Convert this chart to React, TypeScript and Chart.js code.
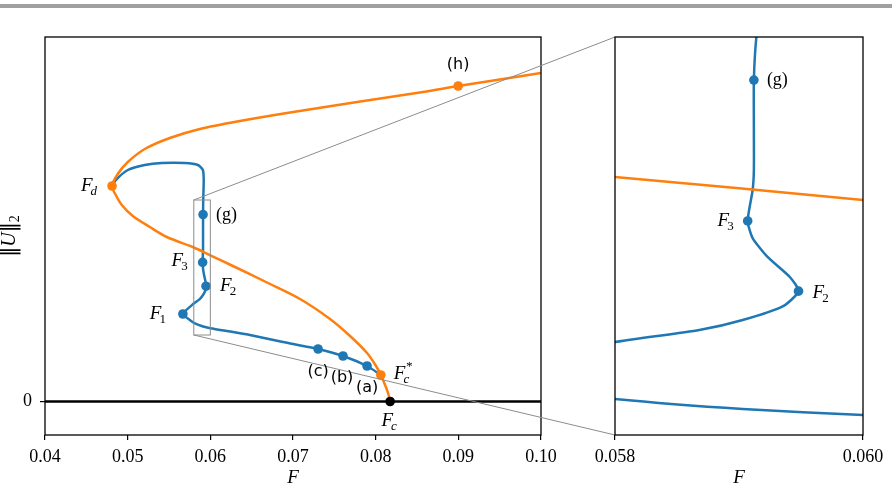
import React, { useEffect, useRef } from "react";
import { Chart, registerables } from "chart.js";
Chart.register(...registerables);

const BLUE = "#1f77b4";
const ORANGE = "#ff7f0e";
const GREY = "#8c8c8c";
const SERIF = "'Liberation Serif', 'DejaVu Serif', serif";
const SANS = "'DejaVu Sans', sans-serif";

// ---- data ----
// turning-point (orange) branch, from F_c up to F_d and back out to the right
const orangeF = [0.08175, 0.0815, 0.08114, 0.08062, 0.08005, 0.07896, 0.0769, 0.07448, 0.07085, 0.06685, 0.06273, 0.06, 0.058, 0.05474, 0.05268, 0.05062, 0.04929, 0.04856, 0.04811, 0.0488, 0.05002, 0.05207, 0.0551, 0.05874, 0.06358, 0.06964, 0.07775, 0.08574, 0.08998, 0.09386, 0.1, 0.102];
const orangeU = [0.0, 0.085, 0.165, 0.265, 0.355, 0.485, 0.655, 0.825, 1.025, 1.19, 1.355, 1.462, 1.54, 1.645, 1.745, 1.855, 1.965, 2.065, 2.155, 2.275, 2.395, 2.525, 2.635, 2.725, 2.805, 2.89, 2.995, 3.095, 3.155, 3.205, 3.285, 3.31];

// blue branch, from F_c^* through F_1, F_2, F_3, (g) up to F_d
const blueF = [0.08062, 0.07896, 0.07605, 0.07303, 0.06879, 0.06479, 0.06273, 0.06, 0.05903, 0.058, 0.05752, 0.05668, 0.058, 0.05868, 0.05903, 0.05936, 0.05948, 0.05941, 0.05923, 0.05911, 0.05907, 0.05911, 0.05912, 0.05912, 0.05912, 0.05914, 0.0592, 0.0591, 0.05849, 0.05692, 0.05413, 0.05207, 0.05002, 0.04856, 0.04811];
const blueU = [0.265, 0.355, 0.455, 0.525, 0.595, 0.665, 0.695, 0.733, 0.753, 0.787, 0.815, 0.875, 0.98, 1.021, 1.055, 1.103, 1.153, 1.201, 1.269, 1.333, 1.391, 1.496, 1.564, 1.7, 1.869, 2.015, 2.215, 2.315, 2.365, 2.385, 2.385, 2.365, 2.315, 2.215, 2.155];

// marked points
const blueMarkNames = ["(a)", "(b)", "(c)", "F1", "F2", "F3", "(g)"];
const blueMarkF = [0.07896, 0.07605, 0.07303, 0.05668, 0.05948, 0.05907, 0.05912];
const blueMarkU = [0.355, 0.455, 0.525, 0.875, 1.153, 1.391, 1.869];
const orangeMarkNames = ["Fd", "Fc*", "(h)"];
const orangeMarkF = [0.04811, 0.08062, 0.08998];
const orangeMarkU = [2.155, 0.265, 3.155];
const fcF = [0.08175];
const fcU = [0];

const leftXTicks = [0.04, 0.05, 0.06, 0.07, 0.08, 0.09, 0.1];
const rightXTicks = [0.058, 0.06];
const leftYTicks = [0];
const leftXRange = [0.04, 0.1];
const leftYRange = [-0.335, 3.645];
const zoomF = [0.058, 0.06];
const zoomU = [0.665, 2.015];

const pts = (xs: number[], ys: number[]) => xs.map((x, i) => ({ x, y: ys[i] }));

type Lbl = {
  name: string;
  dx: number;
  dy: number;
  align: "left" | "right" | "center";
  kind: "math" | "sans" | "serif";
  text: string;
  sub?: string;
  sup?: string;
  subItalic?: boolean;
};

const leftLabels: Lbl[] = [
  { name: "Fd", dx: -13, dy: -1, align: "right", kind: "math", text: "F", sub: "d", subItalic: true },
  { name: "(h)", dx: 0, dy: -21, align: "center", kind: "sans", text: "(h)" },
  { name: "(g)", dx: 13, dy: 1, align: "left", kind: "serif", text: "(g)" },
  { name: "F3", dx: -13, dy: -2, align: "right", kind: "math", text: "F", sub: "3" },
  { name: "F2", dx: 14, dy: -1, align: "left", kind: "math", text: "F", sub: "2" },
  { name: "F1", dx: -15, dy: -1, align: "right", kind: "math", text: "F", sub: "1" },
  { name: "(c)", dx: 0, dy: 23, align: "center", kind: "sans", text: "(c)" },
  { name: "(b)", dx: -1, dy: 22, align: "center", kind: "sans", text: "(b)" },
  { name: "(a)", dx: 0, dy: 22, align: "center", kind: "sans", text: "(a)" },
  { name: "Fc*", dx: 13, dy: -2, align: "left", kind: "math", text: "F", sub: "c", sup: "*", subItalic: true },
  { name: "Fc", dx: 0, dy: 18, align: "center", kind: "math", text: "F", sub: "c", subItalic: true },
];
const rightLabels: Lbl[] = [
  { name: "(g)", dx: 13, dy: 0, align: "left", kind: "serif", text: "(g)" },
  { name: "F3", dx: -12, dy: -1, align: "right", kind: "math", text: "F", sub: "3" },
  { name: "F2", dx: 14, dy: 1, align: "left", kind: "math", text: "F", sub: "2" },
];

function findMark(name: string): { f: number; u: number } | null {
  let i = blueMarkNames.indexOf(name);
  if (i >= 0) return { f: blueMarkF[i], u: blueMarkU[i] };
  i = orangeMarkNames.indexOf(name);
  if (i >= 0) return { f: orangeMarkF[i], u: orangeMarkU[i] };
  if (name === "Fc") return { f: fcF[0], u: fcU[0] };
  return null;
}

function drawLabel(ctx: CanvasRenderingContext2D, x: number, y: number, a: Lbl) {
  ctx.save();
  ctx.fillStyle = "#000";
  if (a.kind !== "math") {
    ctx.font = a.kind === "sans" ? `16px ${SANS}` : `18px ${SERIF}`;
    ctx.textAlign = a.align;
    ctx.textBaseline = "middle";
    ctx.fillText(a.text, x, y);
  } else {
    const baseFont = `italic 19px ${SERIF}`;
    const subFont = `${a.subItalic ? "italic " : ""}13px ${SERIF}`;
    ctx.font = baseFont;
    const wb = ctx.measureText(a.text).width;
    ctx.font = subFont;
    const ws = a.sub ? ctx.measureText(a.sub).width : 0;
    const wp = a.sup ? ctx.measureText(a.sup).width : 0;
    const total = wb + Math.max(ws, wp);
    const x0 = a.align === "left" ? x : a.align === "right" ? x - total : x - total / 2;
    const by = y + 6;
    ctx.textAlign = "left";
    ctx.textBaseline = "alphabetic";
    ctx.font = baseFont;
    ctx.fillText(a.text, x0, by);
    ctx.font = subFont;
    if (a.sub) ctx.fillText(a.sub, x0 + wb - 2, by + 4);
    if (a.sup) ctx.fillText(a.sup, x0 + wb, by - 9);
  }
  ctx.restore();
}

function frame(chart: any) {
  const { ctx, chartArea: ca } = chart;
  ctx.save();
  ctx.strokeStyle = "#000";
  ctx.lineWidth = 1.3;
  ctx.strokeRect(ca.left, ca.top, ca.right - ca.left, ca.bottom - ca.top);
  ctx.restore();
}

export default function App() {
  const leftRef = useRef<HTMLCanvasElement>(null);
  const rightRef = useRef<HTMLCanvasElement>(null);

  useEffect(() => {
    const lineDs = (xs: number[], ys: number[], color: string, order: number, tension: number, width = 2.5) => ({
      data: pts(xs, ys),
      showLine: true,
      borderColor: color,
      backgroundColor: color,
      borderWidth: width,
      pointRadius: 0,
      tension,
      order,
    });
    const markDs = (xs: number[], ys: number[], color: string, order: number) => ({
      data: pts(xs, ys),
      showLine: false,
      backgroundColor: color,
      borderColor: color,
      borderWidth: 0,
      pointRadius: 4.8,
      order,
    });

    const tickGrid = { display: true, drawOnChartArea: false, drawTicks: true, tickLength: 5, color: "#000", tickColor: "#000", lineWidth: 1.2 };

    const rightChart = new Chart(rightRef.current!, {
      type: "scatter",
      data: {
        datasets: [
          markDs(orangeMarkF, orangeMarkU, ORANGE, 1),
          markDs(blueMarkF, blueMarkU, BLUE, 2),
          lineDs(orangeF, orangeU, ORANGE, 3, 0.3),
          lineDs(blueF, blueU, BLUE, 4, 0.2),
        ] as any,
      },
      options: {
        animation: false,
        responsive: false,
        events: [],
        layout: { padding: { left: 615, top: 37, right: 29, bottom: 0 } },
        plugins: { legend: { display: false }, tooltip: { enabled: false } },
        scales: {
          x: {
            type: "linear",
            min: zoomF[0],
            max: zoomF[1],
            afterBuildTicks: (s: any) => { s.ticks = rightXTicks.map((v) => ({ value: v })); },
            afterFit: (s: any) => { s.height = 55; },
            ticks: { autoSkip: false, maxRotation: 0, padding: 6, color: "#000", font: { family: SERIF, size: 18 }, callback: (v: any) => Number(v).toFixed(3) },
            grid: tickGrid,
            border: { display: false },
          },
          y: { type: "linear", display: false, min: zoomU[0], max: zoomU[1] },
        },
      },
      plugins: [
        {
          id: "rightDeco",
          afterDraw(chart: any) {
            frame(chart);
            const { ctx, scales } = chart;
            for (const a of rightLabels) {
              const m = findMark(a.name);
              if (!m) continue;
              drawLabel(ctx, scales.x.getPixelForValue(m.f) + a.dx, scales.y.getPixelForValue(m.u) + a.dy, a);
            }
            ctx.save();
            ctx.font = `italic 19px ${SERIF}`;
            ctx.textAlign = "center";
            ctx.textBaseline = "middle";
            ctx.fillStyle = "#000";
            ctx.fillText("F", (chart.chartArea.left + chart.chartArea.right) / 2, 478);
            ctx.restore();
          },
        },
      ],
    } as any);

    const leftChart = new Chart(leftRef.current!, {
      type: "scatter",
      data: {
        datasets: [
          markDs(fcF, fcU, "#000", 0),
          markDs(orangeMarkF, orangeMarkU, ORANGE, 1),
          markDs(blueMarkF, blueMarkU, BLUE, 2),
          lineDs(orangeF, orangeU, ORANGE, 3, 0.3),
          lineDs(blueF, blueU, BLUE, 4, 0.2),
          lineDs([0.03, 0.11], [0, 0], "#000", 5, 0, 2.6),
        ] as any,
      },
      options: {
        animation: false,
        responsive: false,
        events: [],
        layout: { padding: { left: 0, top: 37, right: 351, bottom: 0 } },
        plugins: { legend: { display: false }, tooltip: { enabled: false } },
        scales: {
          x: {
            type: "linear",
            min: leftXRange[0],
            max: leftXRange[1],
            afterBuildTicks: (s: any) => { s.ticks = leftXTicks.map((v) => ({ value: v })); },
            afterFit: (s: any) => { s.height = 55; },
            ticks: { autoSkip: false, maxRotation: 0, padding: 6, color: "#000", font: { family: SERIF, size: 18 }, callback: (v: any) => Number(v).toFixed(2) },
            grid: tickGrid,
            border: { display: false },
          },
          y: {
            type: "linear",
            min: leftYRange[0],
            max: leftYRange[1],
            afterBuildTicks: (s: any) => { s.ticks = leftYTicks.map((v) => ({ value: v })); },
            afterFit: (s: any) => { s.width = 45; },
            ticks: { autoSkip: false, padding: 8, color: "#000", font: { family: SERIF, size: 18 }, callback: (v: any) => String(v) },
            grid: tickGrid,
            border: { display: false },
          },
        },
      },
      plugins: [
        {
          id: "leftDeco",
          afterDraw(chart: any) {
            frame(chart);
            const { ctx, scales } = chart;
            const x0 = scales.x.getPixelForValue(zoomF[0]);
            const x1 = scales.x.getPixelForValue(zoomF[1]);
            const y0 = scales.y.getPixelForValue(zoomU[1]);
            const y1 = scales.y.getPixelForValue(zoomU[0]);
            ctx.save();
            ctx.strokeStyle = GREY;
            ctx.lineWidth = 1;
            ctx.strokeRect(x0, y0, x1 - x0, y1 - y0);
            const ra = rightChart.chartArea;
            ctx.beginPath();
            ctx.moveTo(x0, y0);
            ctx.lineTo(ra.left, ra.top);
            ctx.moveTo(x0, y1);
            ctx.lineTo(ra.left, ra.bottom);
            ctx.stroke();
            ctx.restore();

            for (const a of leftLabels) {
              const m = findMark(a.name);
              if (!m) continue;
              drawLabel(ctx, scales.x.getPixelForValue(m.f) + a.dx, scales.y.getPixelForValue(m.u) + a.dy, a);
            }

            const ca = chart.chartArea;
            ctx.save();
            ctx.fillStyle = "#000";
            ctx.font = `italic 19px ${SERIF}`;
            ctx.textAlign = "center";
            ctx.textBaseline = "middle";
            ctx.fillText("F", (ca.left + ca.right) / 2, 478);
            // y-axis title ||U||_2
            ctx.translate(9, (ca.top + ca.bottom) / 2);
            ctx.rotate(-Math.PI / 2);
            const parts: [string, string, number][] = [
              ["\u2016", `20px 'DejaVu Serif', serif`, 0],
              ["U", `italic 20px ${SERIF}`, 0],
              ["\u2016", `20px 'DejaVu Serif', serif`, 0],
              ["2", `14px ${SERIF}`, 4],
            ];
            let tot = 0;
            const ws: number[] = [];
            for (const p of parts) { ctx.font = p[1]; const w = ctx.measureText(p[0]).width; ws.push(w); tot += w; }
            let cx = -tot / 2;
            ctx.textAlign = "left";
            ctx.textBaseline = "alphabetic";
            parts.forEach((p, i) => { ctx.font = p[1]; ctx.fillText(p[0], cx, 6 + p[2]); cx += ws[i]; });
            ctx.restore();
          },
        },
      ],
    } as any);

    return () => {
      leftChart.destroy();
      rightChart.destroy();
    };
  }, []);

  return (
    <div style={{ position: "absolute", left: 0, top: 0, width: 892, height: 490, background: "#fff", overflow: "hidden" }}>
      <div style={{ position: "absolute", left: 0, top: 4, width: 892, height: 4, background: "#a0a0a0" }} />
      <canvas ref={leftRef} width={892} height={490} style={{ position: "absolute", left: 0, top: 0 }} />
      <canvas ref={rightRef} width={892} height={490} style={{ position: "absolute", left: 0, top: 0 }} />
    </div>
  );
}
